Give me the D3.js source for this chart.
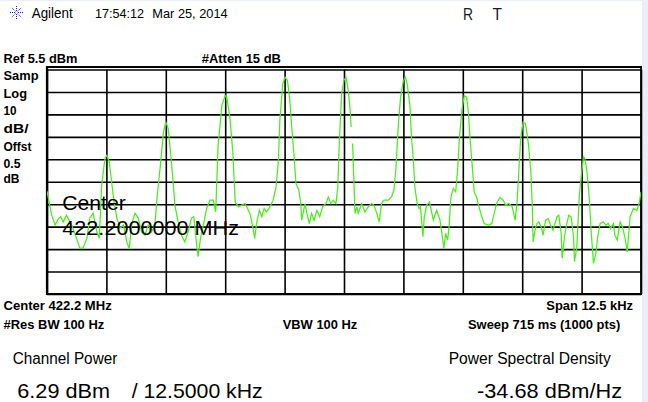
<!DOCTYPE html>
<html><head><meta charset="utf-8">
<script src="https://cdn.jsdelivr.net/npm/d3@7/dist/d3.min.js"></script>
<style>
html,body{margin:0;padding:0;background:#e9eef8;overflow:hidden}
text{font-family:"Liberation Sans",Arial,sans-serif}
</style>
</head><body>
<svg id="c" width="648" height="402"></svg>
<script>
// ---- data ----
const freqKHz = [
 -6.25,-6.15,-6.08,-6.01,-5.96,-5.91,-5.84,-5.73,-5.63,-5.56,
 -5.49,-5.41,-5.35,-5.28,-5.20,-5.15,-5.10,-5.03,-4.99,-4.94,
 -4.89,-4.84,-4.78,-4.71,-4.64,-4.57,-4.52,-4.47,-4.40,-4.33,
 -4.26,-4.19,-4.12,-4.05,-3.98,-3.93,-3.87,-3.80,-3.75,-3.70,
 -3.65,-3.59,-3.56,-3.49,-3.42,-3.35,-3.28,-3.21,-3.16,-3.10,
 -3.07,-3.02,-2.96,-2.89,-2.82,-2.75,-2.70,-2.65,-2.57,-2.50,
 -2.46,-2.40,-2.34,-2.29,-2.22,-2.15,-2.08,-1.98,-1.92,-1.88,
 -1.84,-1.78,-1.73,-1.68,-1.63,-1.56,-1.49,-1.43,-1.38,-1.35,
 -1.29,-1.24,-1.19,-1.14,-1.10,-1.05,-1.01,-0.95,-0.91,-0.89,
 -0.82,-0.78,-0.73,-0.68,-0.63,-0.57,-0.51,-0.45,-0.38,-0.33,
 -0.28,-0.23,-0.17,-0.13,-0.10,-0.05,0.00,0.04,0.09,0.13,
 0.15,0.165,0.18,0.21,0.23,0.27,0.30,0.37,0.44,0.51,
 0.58,0.63,0.69,0.74,0.79,0.84,0.93,1.00,1.05,1.09,
 1.14,1.19,1.25,1.29,1.33,1.39,1.42,1.46,1.49,1.54,
 1.58,1.61,1.66,1.69,1.74,1.80,1.85,1.88,1.95,2.02,
 2.07,2.10,2.14,2.18,2.21,2.25,2.30,2.35,2.39,2.43,
 2.48,2.53,2.58,2.62,2.65,2.70,2.74,2.79,2.84,2.90,
 2.95,3.04,3.11,3.16,3.21,3.28,3.35,3.40,3.47,3.54,
 3.60,3.64,3.68,3.72,3.77,3.82,3.88,3.93,3.96,3.98,
 4.02,4.06,4.10,4.15,4.19,4.24,4.30,4.36,4.40,4.48,
 4.52,4.57,4.59,4.64,4.69,4.73,4.78,4.83,4.85,4.90,
 4.95,4.99,5.04,5.07,5.11,5.16,5.20,5.25,5.30,5.34,
 5.39,5.46,5.51,5.56,5.61,5.67,5.70,5.75,5.81,5.86,
 5.91,5.96,6.02,6.09,6.16,6.21,6.25
];
const levelDbm = [
 -48.7,-59.4,-63.8,-60.9,-60.1,-62.4,-59.4,-63.8,-69.6,-74.1,
 -74.1,-69.6,-60.7,-58.5,-66.9,-69.6,-46.1,-34.1,-32.7,-35.7,
 -44.6,-53.5,-60.7,-65.2,-63.8,-71.3,-74.2,-63.8,-58.5,-60.7,
 -66.8,-68.3,-63.8,-66.8,-63.8,-50.5,-38.5,-22.4,-17.9,-20.7,
 -31.3,-46.1,-54.9,-62.4,-68.3,-71.3,-66.8,-60.7,-60.1,-72.7,
 -77.9,-69.6,-63.8,-56.3,-52.7,-52.7,-57.9,-28.3,-10.5,-6.1,
 -7.5,-16.3,-31.3,-53.5,-55.7,-54.9,-54.2,-58.6,-64.6,-69.7,
 -63.1,-57.2,-60.1,-56.4,-57.9,-55.7,-52.7,-46.8,-34.9,-17.2,
 -0.9,2.1,0.6,-8.3,-20.1,-33.5,-45.3,-48.3,-54.2,-61.6,
 -54.2,-58.6,-63.1,-58.6,-61.6,-57.2,-60.1,-55.7,-54.2,-51.3,
 -54.2,-52.7,-54.2,-46.8,-27.5,-5.3,0.6,2.1,-3.8,-12.7,
 -20.1,null,-27.5,-45.3,-58.6,-55.7,-58.6,-54.2,-57.9,-55.7,
 -54.2,-54.9,-58.6,-62.4,-54.2,-52.7,-52.7,-51.3,-48.3,-39.4,
 -20.1,-6.8,0.6,2.1,-0.9,-11.3,-24.6,-35.0,-46.8,-54.2,
 -56.4,-55.7,-69.0,-60.1,-54.9,-53.5,-58.6,-61.6,-57.2,-61.6,
 -69.0,-74.2,-67.5,-70.5,-64.6,-51.3,-47.5,-49.0,-39.4,-24.6,
 -12.7,-6.1,-6.8,-14.2,-24.6,-37.9,-49.0,-51.3,-55.7,-60.1,
 -63.1,-63.8,-63.1,-58.6,-54.2,-51.5,-52.7,-54.9,-54.2,-55.7,
 -61.6,-54.2,-39.4,-24.6,-17.9,-18.6,-27.5,-39.4,-54.2,-71.3,
 -66.1,-63.1,-62.4,-64.6,-68.3,-61.6,-60.9,-64.6,-66.1,-60.1,
 -59.4,-67.5,-78.6,-69.0,-63.1,-59.4,-60.1,-69.0,-80.1,-73.5,
 -51.3,-42.4,-33.5,-34.2,-39.4,-51.3,-66.1,-80.9,-76.4,-69.0,
 -63.1,-62.4,-63.8,-63.1,-65.3,-63.1,-68.3,-70.5,-62.4,-64.6,
 -69.0,-75.7,-60.1,-56.4,-57.2,-54.2,-49.0
];
const refLevelDbm = 5.5;
const dbPerDiv = 10;
const yDivisions = 10;
const spanKHz = 12.5;
const xDivisions = 10;
const sideLabels = ["Samp","Log","10","dB/","Offst","0.5","dB"];

// ---- drawing ----
const svg = d3.select("#c");
svg.append("rect").attr("x",0).attr("y",1).attr("width",642).attr("height",401).attr("fill","#ffffff");

const L = 47, R = 641, T = 69.5, B = 294;
const x = d3.scaleLinear().domain([-spanKHz/2, spanKHz/2]).range([L, R]);
const y = d3.scaleLinear().domain([refLevelDbm - dbPerDiv*yDivisions, refLevelDbm]).range([B, T]);

const xTicks = d3.range(0, xDivisions+1).map(i => -spanKHz/2 + i*spanKHz/xDivisions);
const yTicks = d3.range(0, yDivisions+1).map(i => refLevelDbm - i*dbPerDiv);

// graticule via axes
const gx = svg.append("g").attr("transform",`translate(0,${B})`)
  .call(d3.axisBottom(x).tickValues(xTicks).tickSize(-(B-T)).tickFormat(""));
gx.select(".domain").remove();
gx.selectAll("line").attr("stroke","#000").attr("stroke-width",1.6);

const gy = svg.append("g").attr("transform",`translate(${L},0)`)
  .call(d3.axisLeft(y).tickValues(yTicks).tickSize(-(R-L)).tickFormat(""));
gy.select(".domain").remove();
gy.selectAll("line").attr("stroke","#000").attr("stroke-width",1.6);

// frame
const frame = svg.append("g").attr("stroke","#000").attr("fill","none");
frame.append("line").attr("x1",L-1).attr("x2",R+1).attr("y1",67).attr("y2",67).attr("stroke-width",2);
frame.append("line").attr("x1",L).attr("x2",L).attr("y1",66).attr("y2",B+1).attr("stroke-width",2.2);
frame.append("line").attr("x1",L-1).attr("x2",R+1).attr("y1",B).attr("y2",B).attr("stroke-width",2.2);
frame.append("line").attr("x1",R).attr("x2",R).attr("y1",66).attr("y2",B+1).attr("stroke-width",1.8);

// trace
svg.append("clipPath").attr("id","pc").append("rect").attr("x",L).attr("y",T-2).attr("width",R-L).attr("height",B-T+2);
const pts = freqKHz.map((f,i) => ({f, v: levelDbm[i]}));
const line = d3.line().defined(d => d.v !== null).x(d => x(d.f)).y(d => y(d.v));
svg.append("path").datum(pts).attr("d",line).attr("fill","none")
  .attr("stroke","#48ee18").attr("stroke-width",1.25).attr("clip-path","url(#pc)");

// text helper
function txt(s, px, py, size, weight, len, anchor, color){
  const t = svg.append("text").attr("x",px).attr("y",py).text(s)
    .attr("font-size",size).attr("font-weight",weight||"normal")
    .attr("fill",color||"#000").attr("text-anchor",anchor||"start");
  if(len){ t.attr("textLength",len).attr("lengthAdjust","spacingAndGlyphs"); }
  return t;
}

// header logo
const logo = svg.append("g").attr("transform","translate(16.5,12.5)").attr("stroke","#1a1ae0").attr("stroke-width",1).attr("stroke-dasharray","1,1");
d3.range(0,8).forEach(k => {
  const a = k*Math.PI/4;
  logo.append("line").attr("x1",Math.cos(a)*1.5).attr("y1",Math.sin(a)*1.5)
    .attr("x2",Math.cos(a)*6.5).attr("y2",Math.sin(a)*6.5);
});
txt("Agilent", 31.7, 18.3, 14, "normal", 41);
txt("17:54:12", 95, 17.5, 13, "normal", 49);
txt("Mar 25, 2014", 152.3, 17.5, 13, "normal", 75.4);
txt("R", 463, 19.5, 16, "normal", 10, "start", "#1a1a2a");
txt("T", 492.5, 19.5, 16, "normal", 9.5, "start", "#1a1a2a");

// top labels
txt("Ref 5.5 dBm", 3.5, 62.7, 12, "bold", 74);
txt("#Atten 15 dB", 201.7, 62.7, 12, "bold", 79.3);

// side labels
const sideY = [80.3, 97.8, 115, 133, 151.3, 167.5, 182.8];
const sideW = [35, 23.5, 13, 25, 28, 17, 16];
sideLabels.forEach((s,i) => txt(s, 3.5, sideY[i], 12, "bold", sideW[i]));

// overlay center text
txt("Center", 62.3, 210, 21, "normal", 63.4);
txt("422.2000000 MHz", 62.3, 235, 21, "normal", 176.7);

// bottom annotations
txt("Center 422.2 MHz", 3.5, 310.3, 12, "bold", 108.2);
txt("Span 12.5 kHz", 633, 310.3, 12, "bold", 86.7, "end");
txt("#Res BW 100 Hz", 3.5, 328.7, 12, "bold", 100.7);
txt("VBW 100 Hz", 282.7, 328.7, 12, "bold", 74.6);
txt("Sweep 715 ms (1000 pts)", 468, 328.7, 12, "bold", 152.3);

txt("Channel Power", 12.7, 364.3, 16, "normal", 104.6);
txt("Power Spectral Density", 448.7, 364.3, 16, "normal", 162);
txt("6.29 dBm", 17.3, 398, 21, "normal", 92.7);
txt("/ 12.5000 kHz", 131.7, 398, 21, "normal", 131);
txt("-34.68 dBm/Hz", 477, 398, 21, "normal", 145);
</script>
</body></html>
